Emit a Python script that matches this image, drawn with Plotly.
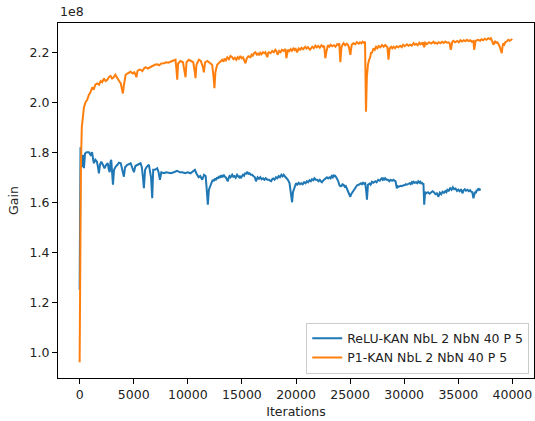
import plotly.graph_objects as go

# Training gain (in units of 1e8) recorded against iteration count
relu_iter = [
    0, 40, 80, 120, 200, 300, 400, 500, 650, 860,
    1000, 1150, 1250, 1320, 1450, 1600, 1700, 1780, 1880, 2000,
    2150, 2300, 2450, 2600, 2700, 2780, 2850, 2920, 3000, 3080,
    3180, 3320, 3500, 3630, 3800, 3950, 4090, 4200, 4400, 4550,
    4710, 4850, 5020, 5150, 5300, 5450, 5630, 5750, 5850, 5940,
    6050, 6200, 6400, 6500, 6600, 6710, 6800, 6950, 7170, 7300,
    7420, 7550, 7790, 8000, 8200, 8450, 8700, 9020, 9250, 9500,
    9750, 10000, 10250, 10450, 10650, 10800, 11000, 11150, 11330, 11500,
    11650, 11750, 11850, 11950, 12090, 12200, 12300, 12400, 12500, 12600,
    12700, 12800, 12900, 13000, 13100, 13200, 13320, 13420, 13500, 13600,
    13700, 13780, 13850, 13950, 14100, 14200, 14300, 14420, 14550, 14650,
    14750, 14820, 14900, 15000, 15100, 15200, 15300, 15400, 15480, 15600,
    15700, 15820, 15950, 16080, 16200, 16300, 16450, 16580, 16700, 16820,
    16950, 17080, 17200, 17350, 17500, 17600, 17700, 17800, 17900, 18020,
    18150, 18280, 18400, 18520, 18650, 18760, 18860, 18960, 19050, 19150,
    19250, 19400, 19560, 19640, 19720, 19850, 20000, 20120, 20250, 20380,
    20500, 20620, 20750, 20880, 21000, 21120, 21250, 21370, 21480, 21600,
    21700, 21820, 21950, 22080, 22200, 22300, 22400, 22500, 22600, 22720,
    22850, 22970, 23100, 23200, 23300, 23400, 23480, 23560, 23630, 23720,
    23800, 23900, 24000, 24100, 24200, 24300, 24400, 24500, 24600, 24700,
    24800, 24900, 25020, 25100, 25200, 25320, 25450, 25550, 25650, 25790,
    25900, 26000, 26100, 26200, 26300, 26400, 26500, 26560, 26650, 26800,
    26900, 27020, 27150, 27330, 27450, 27600, 27750, 27940, 28020, 28100,
    28180, 28250, 28380, 28500, 28620, 28750, 28880, 29010, 29100, 29200,
    29320, 29420, 29500, 29650, 29800, 29920, 30050, 30150, 30250, 30380,
    30500, 30600, 30700, 30780, 30860, 30980, 31100, 31200, 31300, 31400,
    31480, 31560, 31650, 31720, 31780, 31850, 31940, 32050, 32200, 32350,
    32500, 32620, 32750, 32880, 33020, 33100, 33150, 33300, 33420, 33550,
    33680, 33800, 33900, 34000, 34120, 34250, 34380, 34500, 34620, 34750,
    34880, 35000, 35120, 35250, 35330, 35400, 35500, 35600, 35720, 35850,
    35980, 36100, 36200, 36300, 36400, 36480, 36550, 36620, 36700, 36780,
    36860, 36960, 37080,
]
relu_gain = [
    1.25, 1.55, 1.82, 1.78, 1.74, 1.79, 1.736, 1.795, 1.80, 1.80,
    1.79, 1.80, 1.77, 1.756, 1.77, 1.762, 1.74, 1.716, 1.75, 1.762,
    1.75, 1.736, 1.75, 1.756, 1.73, 1.72, 1.76, 1.77, 1.72, 1.67,
    1.73, 1.742, 1.75, 1.758, 1.756, 1.73, 1.702, 1.74, 1.75, 1.752,
    1.756, 1.74, 1.72, 1.745, 1.75, 1.752, 1.756, 1.74, 1.70, 1.656,
    1.73, 1.742, 1.75, 1.73, 1.70, 1.616, 1.73, 1.73, 1.736, 1.72,
    1.69, 1.72, 1.716, 1.72, 1.718, 1.716, 1.72, 1.726, 1.72, 1.72,
    1.716, 1.72, 1.716, 1.722, 1.73, 1.715, 1.70, 1.705, 1.69, 1.71,
    1.705, 1.65, 1.59, 1.65, 1.67, 1.68, 1.69, 1.684, 1.695, 1.688,
    1.70, 1.694, 1.705, 1.698, 1.708, 1.70, 1.71, 1.702, 1.70, 1.692,
    1.684, 1.698, 1.705, 1.70, 1.71, 1.702, 1.705, 1.698, 1.71, 1.704,
    1.70, 1.706, 1.696, 1.704, 1.71, 1.706, 1.718, 1.712, 1.722, 1.714,
    1.716, 1.71, 1.71, 1.704, 1.70, 1.684, 1.70, 1.694, 1.70, 1.692,
    1.696, 1.69, 1.696, 1.69, 1.69, 1.686, 1.684, 1.692, 1.695, 1.69,
    1.70, 1.696, 1.705, 1.70, 1.71, 1.704, 1.71, 1.704, 1.70, 1.694,
    1.69, 1.677, 1.62, 1.60, 1.64, 1.66, 1.676, 1.67, 1.678, 1.672,
    1.676, 1.672, 1.68, 1.676, 1.684, 1.68, 1.688, 1.684, 1.692, 1.688,
    1.696, 1.69, 1.69, 1.684, 1.69, 1.684, 1.68, 1.686, 1.69, 1.694,
    1.70, 1.695, 1.70, 1.696, 1.705, 1.70, 1.71, 1.704, 1.705, 1.70,
    1.695, 1.685, 1.67, 1.664, 1.665, 1.672, 1.67, 1.662, 1.665, 1.655,
    1.64, 1.632, 1.622, 1.632, 1.64, 1.65, 1.655, 1.662, 1.668, 1.67,
    1.674, 1.676, 1.672, 1.678, 1.674, 1.676, 1.64, 1.61, 1.67, 1.675,
    1.67, 1.682, 1.678, 1.684, 1.68, 1.69, 1.686, 1.698, 1.69, 1.694,
    1.688, 1.696, 1.69, 1.69, 1.684, 1.69, 1.686, 1.69, 1.686, 1.684,
    1.656, 1.664, 1.662, 1.666, 1.664, 1.668, 1.668, 1.672, 1.67, 1.674,
    1.676, 1.672, 1.68, 1.676, 1.682, 1.678, 1.68, 1.676, 1.684, 1.678,
    1.682, 1.676, 1.678, 1.672, 1.676, 1.59, 1.642, 1.636, 1.64, 1.634,
    1.638, 1.644, 1.64, 1.632, 1.636, 1.628, 1.622, 1.638, 1.632, 1.642,
    1.638, 1.645, 1.64, 1.65, 1.646, 1.656, 1.65, 1.66, 1.652, 1.655,
    1.645, 1.65, 1.644, 1.652, 1.645, 1.636, 1.648, 1.652, 1.646, 1.65,
    1.644, 1.648, 1.642, 1.64, 1.616, 1.63, 1.642, 1.636, 1.65, 1.645,
    1.656, 1.65, 1.652,
]

p1_iter = [
    0, 60, 120, 200, 300, 400, 550, 700, 860, 1000,
    1170, 1300, 1450, 1630, 1800, 1950, 2090, 2250, 2400, 2560,
    2700, 2860, 3000, 3150, 3300, 3480, 3650, 3800, 3900, 4000,
    4100, 4250, 4400, 4550, 4710, 4900, 5050, 5170, 5250, 5350,
    5500, 5630, 5800, 5950, 6100, 6300, 6550, 6750, 6950, 7170,
    7350, 7550, 7790, 8000, 8200, 8400, 8600, 8860, 8950, 9020,
    9100, 9320, 9550, 9700, 9790, 9880, 10090, 10300, 10500, 10650,
    10710, 10800, 11020, 11200, 11400, 11480, 11600, 11800, 12090, 12250,
    12380, 12460, 12550, 12710, 12950, 13170, 13300, 13400, 13520, 13650,
    13800, 13940, 14100, 14220, 14350, 14480, 14600, 14720, 14850, 14980,
    15100, 15200, 15330, 15450, 15600, 15790, 15900, 16000, 16120, 16250,
    16380, 16500, 16600, 16700, 16820, 16950, 17070, 17170, 17270, 17350,
    17430, 17500, 17650, 17800, 17950, 18090, 18200, 18300, 18450, 18580,
    18700, 18850, 19020, 19110, 19250, 19380, 19500, 19620, 19750, 19850,
    19940, 20100, 20250, 20380, 20500, 20650, 20860, 20980, 21100, 21300,
    21500, 21650, 21790, 21920, 22050, 22200, 22350, 22480, 22600, 22710,
    22800, 22950, 23080, 23200, 23350, 23500, 23650, 23800, 23920, 24000,
    24100, 24200, 24300, 24400, 24550, 24700, 24820, 24900, 25020, 25150,
    25300, 25480, 25620, 25800, 25920, 26050, 26150, 26250, 26380, 26470,
    26550, 26650, 26760, 26860, 26940, 27000, 27170, 27280, 27400, 27520,
    27650, 27800, 27940, 28100, 28250, 28380, 28450, 28550, 28650, 28800,
    28900, 29010, 29150, 29300, 29450, 29630, 29780, 29900, 30050, 30250,
    30400, 30550, 30700, 30860, 30980, 31100, 31250, 31400, 31500, 31600,
    31700, 31780, 31850, 31950, 32100, 32300, 32500, 32710, 32800, 32900,
    33050, 33200, 33350, 33500, 33650, 33800, 33950, 34100, 34200, 34310,
    34450, 34550, 34700, 34900, 35050, 35200, 35350, 35500, 35650, 35790,
    35950, 36100, 36250, 36400, 36470, 36600, 36800, 37020, 37150, 37300,
    37450, 37600, 37780, 37940, 38020, 38100, 38250, 38400, 38500, 38600,
    38700, 38850, 39020, 39100, 39150, 39250, 39350, 39500, 39630, 39750,
    39850, 40000,
]
p1_gain = [
    0.96, 1.40, 1.75, 1.90, 1.95, 1.98, 2.00, 2.01, 2.03, 2.04,
    2.06, 2.05, 2.07, 2.075, 2.07, 2.085, 2.08, 2.095, 2.085, 2.09,
    2.10, 2.105, 2.095, 2.10, 2.11, 2.095, 2.085, 2.075, 2.05, 2.035,
    2.07, 2.11, 2.115, 2.12, 2.122, 2.115, 2.12, 2.11, 2.10, 2.125,
    2.13, 2.13, 2.125, 2.135, 2.14, 2.135, 2.142, 2.145, 2.15, 2.152,
    2.148, 2.155, 2.156, 2.16, 2.158, 2.162, 2.165, 2.17, 2.13, 2.09,
    2.155, 2.165, 2.16, 2.13, 2.10, 2.16, 2.17, 2.165, 2.16, 2.12,
    2.096, 2.15, 2.17, 2.165, 2.14, 2.12, 2.16, 2.165, 2.155, 2.15,
    2.10, 2.056, 2.12, 2.15, 2.16, 2.17, 2.162, 2.175, 2.168, 2.18,
    2.172, 2.185, 2.18, 2.172, 2.178, 2.17, 2.18, 2.174, 2.185, 2.176,
    2.18, 2.17, 2.156, 2.175, 2.184, 2.18, 2.19, 2.186, 2.196, 2.20,
    2.19, 2.195, 2.188, 2.198, 2.192, 2.20, 2.196, 2.20, 2.19, 2.18,
    2.198, 2.20, 2.196, 2.205, 2.20, 2.21, 2.204, 2.19, 2.205, 2.20,
    2.21, 2.205, 2.213, 2.176, 2.21, 2.204, 2.212, 2.206, 2.215, 2.21,
    2.216, 2.20, 2.215, 2.21, 2.218, 2.212, 2.222, 2.215, 2.22, 2.21,
    2.222, 2.216, 2.226, 2.22, 2.225, 2.218, 2.228, 2.222, 2.226, 2.176,
    2.20, 2.228, 2.222, 2.23, 2.224, 2.228, 2.222, 2.232, 2.228, 2.236,
    2.16, 2.22, 2.23, 2.236, 2.228, 2.234, 2.228, 2.22, 2.19, 2.23,
    2.236, 2.232, 2.24, 2.234, 2.24, 2.236, 2.242, 2.238, 2.242, 1.962,
    2.10, 2.15, 2.17, 2.18, 2.20, 2.196, 2.216, 2.21, 2.222, 2.216,
    2.225, 2.22, 2.229, 2.222, 2.229, 2.224, 2.22, 2.17, 2.215, 2.222,
    2.216, 2.222, 2.216, 2.224, 2.22, 2.226, 2.22, 2.23, 2.224, 2.232,
    2.226, 2.23, 2.226, 2.236, 2.23, 2.234, 2.228, 2.238, 2.232, 2.236,
    2.232, 2.24, 2.22, 2.238, 2.232, 2.24, 2.235, 2.242, 2.236, 2.238,
    2.234, 2.24, 2.236, 2.242, 2.237, 2.243, 2.238, 2.24, 2.236, 2.21,
    2.242, 2.246, 2.24, 2.245, 2.24, 2.248, 2.243, 2.248, 2.244, 2.25,
    2.245, 2.248, 2.242, 2.245, 2.21, 2.245, 2.25, 2.246, 2.252, 2.248,
    2.254, 2.25, 2.256, 2.252, 2.256, 2.248, 2.23, 2.245, 2.238, 2.24,
    2.235, 2.22, 2.196, 2.225, 2.235, 2.23, 2.24, 2.244, 2.25, 2.246,
    2.248, 2.253,
]

x_ticks = [0, 5000, 10000, 15000, 20000, 25000, 30000, 35000, 40000]
y_ticks = [1.0, 1.2, 1.4, 1.6, 1.8, 2.0, 2.2]

FONT = "DejaVu Sans"
TEXT = "#222222"

fig = go.Figure()
fig.add_trace(go.Scatter(x=relu_iter, y=relu_gain, mode="lines", name="ReLU-KAN NbL 2 NbN 40 P 5",
                         line=dict(color="#1f77b4", width=2)))
fig.add_trace(go.Scatter(x=p1_iter, y=p1_gain, mode="lines", name="P1-KAN NbL 2 NbN 40 P 5",
                         line=dict(color="#ff7f0e", width=2)))

axis_common = dict(showgrid=False, zeroline=False, showline=True, linecolor="black", linewidth=1,
                   mirror=True, ticks="outside", ticklen=5, tickwidth=1, tickcolor="black",
                   tickfont=dict(family=FONT, size=12.5, color=TEXT))

fig.update_xaxes(range=[-2000, 42000], tickvals=x_ticks, ticktext=[str(v) for v in x_ticks],
                 title=dict(text="Iterations", font=dict(family=FONT, size=12.5, color=TEXT), standoff=6),
                 **axis_common)
fig.update_yaxes(range=[0.897, 2.317], tickvals=y_ticks, ticktext=[f"{v:.1f}" for v in y_ticks],
                 title=dict(text="Gain", font=dict(family=FONT, size=12.5, color=TEXT), standoff=8),
                 **axis_common)

# scale factor shown above the y axis
fig.add_annotation(text="1e8", xref="paper", yref="paper", x=0, y=1, xanchor="left", yanchor="bottom",
                   yshift=2, showarrow=False, font=dict(family=FONT, size=12.5, color=TEXT))

fig.update_layout(
    width=535, height=421,
    margin=dict(l=58, r=1, t=23, b=43),
    paper_bgcolor="white", plot_bgcolor="white",
    font=dict(family=FONT, size=12.5, color=TEXT),
    legend=dict(x=0.99, y=0.012, xanchor="right", yanchor="bottom",
                bgcolor="rgba(255,255,255,0.8)", bordercolor="#cccccc", borderwidth=1,
                font=dict(family=FONT, size=12.5, color=TEXT), tracegroupgap=0),
    showlegend=True,
)

fig.write_html("out.html")
